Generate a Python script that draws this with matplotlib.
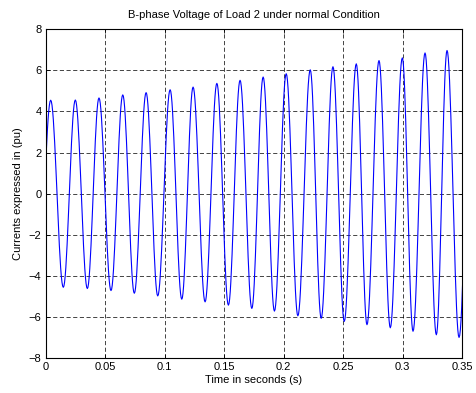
import numpy as np
import matplotlib
matplotlib.use("Agg")
import matplotlib.pyplot as plt

# Extremes of the waveform (time in s, value in pu)
peak_t = [0.0042, 0.0249, 0.0448, 0.0648, 0.0844, 0.1046, 0.1239, 0.1439, 0.1634,
          0.1828, 0.2022, 0.2224, 0.2415, 0.2611, 0.2802, 0.2998, 0.3189, 0.3374]
peak_v = [4.55, 4.56, 4.66, 4.81, 4.92, 5.06, 5.19, 5.37, 5.52,
          5.68, 5.84, 6.03, 6.18, 6.32, 6.48, 6.61, 6.85, 6.97]
trough_t = [0.0148, 0.0350, 0.0549, 0.0745, 0.0942, 0.1144, 0.1340, 0.1536, 0.1733,
            0.1923, 0.2120, 0.2316, 0.2510, 0.2701, 0.2897, 0.3088, 0.3284, 0.3475]
trough_v = [-4.56, -4.62, -4.72, -4.85, -4.98, -5.14, -5.27, -5.43, -5.59,
            -5.72, -5.95, -6.07, -6.22, -6.38, -6.53, -6.70, -6.87, -7.00]
# value at the left and right edges of the window
start_t, start_v = 0.0, 1.0
end_t, end_v = 0.35, -5.0

xticks = [0, 0.05, 0.1, 0.15, 0.2, 0.25, 0.3, 0.35]
xticklabels = ["0", "0.05", "0.1", "0.15", "0.2", "0.25", "0.3", "0.35"]
yticks = [-8, -6, -4, -2, 0, 2, 4, 6, 8]

# Build the waveform: half-cosine shape between successive extremes
ext_t = []
ext_v = []
for pt, pv, tt, tv in zip(peak_t, peak_v, trough_t, trough_v):
    ext_t += [pt, tt]
    ext_v += [pv, tv]

t_all, v_all = [], []
# start segment (rising towards first peak)
seg = np.linspace(0, 1, 20)
v_prev_trough = -ext_v[0]
half = ext_t[1] - ext_t[0]
t0 = ext_t[0] - half
ts = t0 + seg * half
vs = v_prev_trough + (ext_v[0] - v_prev_trough) * (1 - np.cos(np.pi * seg)) / 2
mask = ts >= start_t
t_all += list(ts[mask]); v_all += list(vs[mask])
for i in range(len(ext_t) - 1):
    ts = ext_t[i] + seg * (ext_t[i + 1] - ext_t[i])
    vs = ext_v[i] + (ext_v[i + 1] - ext_v[i]) * (1 - np.cos(np.pi * seg)) / 2
    t_all += list(ts[1:]); v_all += list(vs[1:])
# end segment (rising after the last trough)
ts = ext_t[-1] + seg * half
vs = ext_v[-1] + (-ext_v[-1] - ext_v[-1]) * (1 - np.cos(np.pi * seg)) / 2
mask = ts <= end_t + 0.001
t_all += list(ts[1:][mask[1:]]); v_all += list(vs[1:][mask[1:]])

plt.rcParams['font.family'] = ['Liberation Sans', 'DejaVu Sans']
fig = plt.figure(figsize=(4.77, 3.93), dpi=100)
ax = fig.add_axes([0.0958, 0.0891, 0.8728, 0.8363])
ax.plot(t_all, v_all, color=(0, 0, 1), lw=0.8)
ax.set_xlim(0, 0.35)
ax.set_ylim(-8, 8)
ax.set_xticks(xticks)
ax.set_xticklabels(xticklabels)
ax.set_yticks(yticks)
ax.grid(True, color='black', linestyle=(0, (5, 3)), linewidth=0.6, alpha=0.85)
ax.tick_params(direction='in', top=True, right=True, labelsize=8, length=3, width=0.6, pad=3)
for s in ax.spines.values():
    s.set_linewidth(0.8)
ax.set_title("B-phase Voltage of Load 2 under normal Condition", fontsize=8, pad=8)
ax.set_xlabel("Time in seconds (s)", fontsize=8, labelpad=2)
ax.set_ylabel("Currents expressed in (pu)", fontsize=8, labelpad=4)
fig.savefig("out.png", dpi=100)
